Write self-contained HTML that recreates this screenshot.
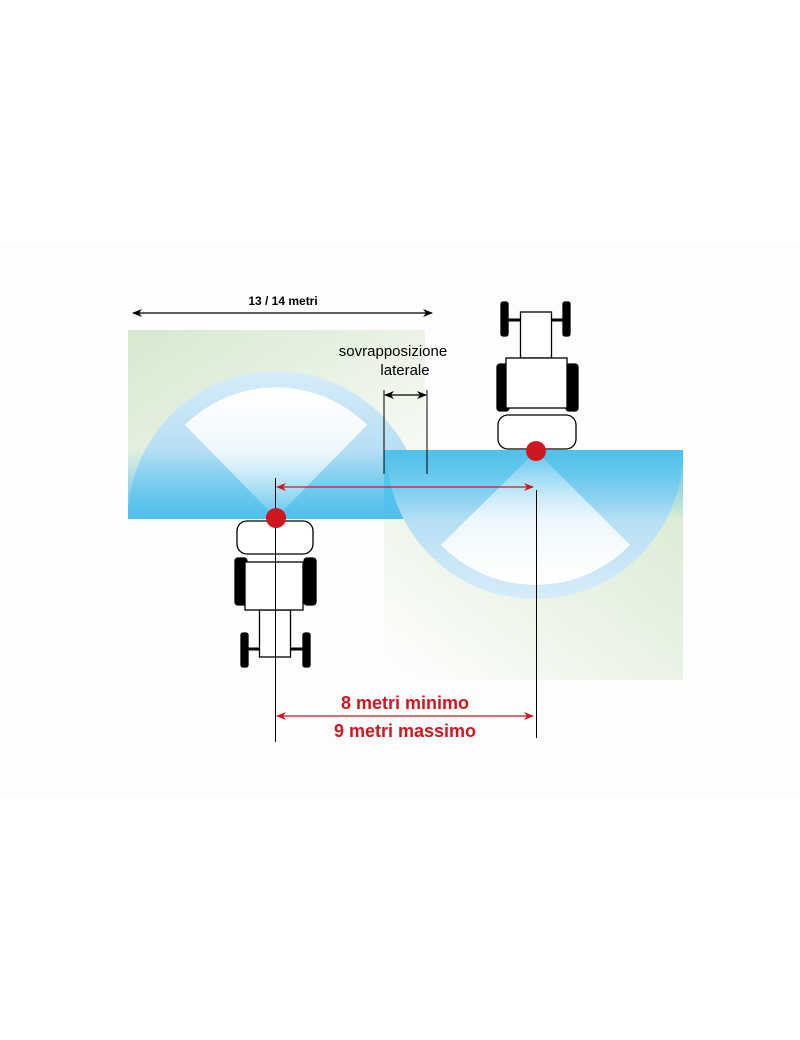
<!DOCTYPE html>
<html><head><meta charset="utf-8"><style>
html,body{margin:0;padding:0;background:#fff;}
svg{display:block;}
text{font-family:"Liberation Sans",sans-serif;}
</style></head><body>
<svg width="800" height="1040" viewBox="0 0 800 1040" xmlns="http://www.w3.org/2000/svg">
<defs>
<linearGradient id="gL" x1="0" y1="0" x2="1" y2="1">
<stop offset="0" stop-color="#d6e9cf"/><stop offset="0.6" stop-color="#eef5ea"/><stop offset="1" stop-color="#ffffff"/>
</linearGradient>
<linearGradient id="gR" x1="1" y1="0" x2="0" y2="1">
<stop offset="0" stop-color="#d6e9cf"/><stop offset="0.6" stop-color="#eef5ea"/><stop offset="1" stop-color="#ffffff"/>
</linearGradient>
<linearGradient id="cL" x1="0" y1="0" x2="0" y2="1">
<stop offset="0" stop-color="#d8ecf9"/><stop offset="0.5" stop-color="#b9e0f5"/><stop offset="1" stop-color="#8fd0f0"/>
</linearGradient>
<linearGradient id="cR" x1="0" y1="1" x2="0" y2="0">
<stop offset="0" stop-color="#d8ecf9"/><stop offset="0.5" stop-color="#b9e0f5"/><stop offset="1" stop-color="#8fd0f0"/>
</linearGradient>
<linearGradient id="bL" x1="0" y1="0" x2="0" y2="1">
<stop offset="0" stop-color="#4dc1ec" stop-opacity="0"/><stop offset="1" stop-color="#4dc1ec"/>
</linearGradient>
<linearGradient id="bR" x1="0" y1="1" x2="0" y2="0">
<stop offset="0" stop-color="#4dc1ec" stop-opacity="0"/><stop offset="1" stop-color="#4dc1ec"/>
</linearGradient>
<linearGradient id="wL" x1="0" y1="0" x2="0" y2="1">
<stop offset="0" stop-color="#ffffff"/><stop offset="0.5" stop-color="#ffffff" stop-opacity="0.75"/><stop offset="1" stop-color="#ffffff" stop-opacity="0.1"/>
</linearGradient>
<linearGradient id="wR" x1="0" y1="1" x2="0" y2="0">
<stop offset="0" stop-color="#ffffff"/><stop offset="0.5" stop-color="#ffffff" stop-opacity="0.75"/><stop offset="1" stop-color="#ffffff" stop-opacity="0.1"/>
</linearGradient>
<marker id="ak" markerWidth="10" markerHeight="8" refX="9" refY="4" orient="auto-start-reverse" markerUnits="userSpaceOnUse">
<path d="M0,0 L10,4 L0,8 L3,4 z" fill="#000"/></marker>
<marker id="ar" markerWidth="10" markerHeight="8" refX="9" refY="4" orient="auto-start-reverse" markerUnits="userSpaceOnUse">
<path d="M0,0 L10,4 L0,8 L3,4 z" fill="#d0161e"/></marker>
</defs>
<rect x="0" y="245" width="800" height="550" fill="#fdfdfd"/>
<rect x="128" y="330" width="297" height="189" fill="url(#gL)"/>
<rect x="384" y="451" width="299" height="229" fill="url(#gR)"/>
<path d="M128,519 A148,148 0 0 1 424,519 Z" fill="url(#cL)"/>
<rect x="128" y="450" width="296" height="69" fill="url(#bL)"/>
<rect x="384" y="450" width="40" height="69" fill="#4dc1ec" opacity="0.6"/>
<path d="M276,518 L185,425 A129,129 0 0 1 367,425 Z" fill="url(#wL)"/>
<path d="M387,451 A148,148 0 0 0 683,451 Z" fill="url(#cR)"/>
<rect x="384" y="450" width="299" height="70" fill="url(#bR)"/>
<path d="M536,451 L441,545 A132,132 0 0 0 630,545 Z" fill="url(#wR)"/>
<line x1="133" y1="313" x2="432" y2="313" stroke="#000" stroke-width="1.3" marker-start="url(#ak)" marker-end="url(#ak)"/>
<text x="283" y="305" font-size="12" font-weight="bold" text-anchor="middle">13 / 14 metri</text>
<text x="393" y="356" font-size="15" text-anchor="middle">sovrapposizione</text>
<text x="405" y="375" font-size="15" text-anchor="middle">laterale</text>
<line x1="384" y1="390" x2="384" y2="474" stroke="#000" stroke-width="1"/>
<line x1="427" y1="390" x2="427" y2="474" stroke="#000" stroke-width="1"/>
<line x1="385" y1="395" x2="426" y2="395" stroke="#000" stroke-width="1.2" marker-start="url(#ak)" marker-end="url(#ak)"/>
<line x1="275.5" y1="478" x2="275.5" y2="742" stroke="#000" stroke-width="1"/>
<line x1="536.5" y1="490" x2="536.5" y2="738" stroke="#000" stroke-width="1"/>
<g stroke="#000" stroke-width="1.3">
<rect x="235" y="558" width="12" height="47" rx="3" fill="#000"/>
<rect x="304" y="558" width="12" height="47" rx="3" fill="#000"/>
<line x1="245" y1="649" x2="305" y2="649" stroke-width="3"/>
<rect x="241" y="633" width="7" height="34" rx="2" fill="#000"/>
<rect x="303" y="633" width="7" height="34" rx="2" fill="#000"/>
<rect x="259.5" y="610" width="31" height="47" fill="#fff"/>
<rect x="245" y="562" width="58" height="48" fill="#fff"/>
<rect x="237" y="521" width="76" height="33" rx="10" fill="#fff"/>
</g>
<line x1="275.5" y1="521" x2="275.5" y2="675" stroke="#000" stroke-width="1"/>
<g stroke="#000" stroke-width="1.3">
<rect x="497" y="364" width="12" height="47" rx="3" fill="#000"/>
<rect x="566" y="364" width="12" height="47" rx="3" fill="#000"/>
<line x1="505" y1="320" x2="567" y2="320" stroke-width="3"/>
<rect x="501" y="302" width="7" height="34" rx="2" fill="#000"/>
<rect x="563" y="302" width="7" height="34" rx="2" fill="#000"/>
<rect x="520.5" y="312" width="31" height="46" fill="#fff"/>
<rect x="506" y="358" width="61" height="50" fill="#fff"/>
<rect x="498" y="415" width="78" height="34" rx="10" fill="#fff"/>
</g>
<line x1="277" y1="487" x2="533" y2="487" stroke="#d0161e" stroke-width="1.3" marker-start="url(#ar)" marker-end="url(#ar)"/>
<line x1="277" y1="716" x2="533" y2="716" stroke="#d0161e" stroke-width="1.3" marker-start="url(#ar)" marker-end="url(#ar)"/>
<circle cx="276" cy="518" r="10" fill="#d0161e"/>
<circle cx="536" cy="451" r="10" fill="#d0161e"/>
<text x="405" y="709" font-size="18" font-weight="bold" fill="#d0161e" text-anchor="middle">8 metri minimo</text>
<text x="405" y="737" font-size="18" font-weight="bold" fill="#d0161e" text-anchor="middle">9 metri massimo</text>
</svg>
</body></html>
